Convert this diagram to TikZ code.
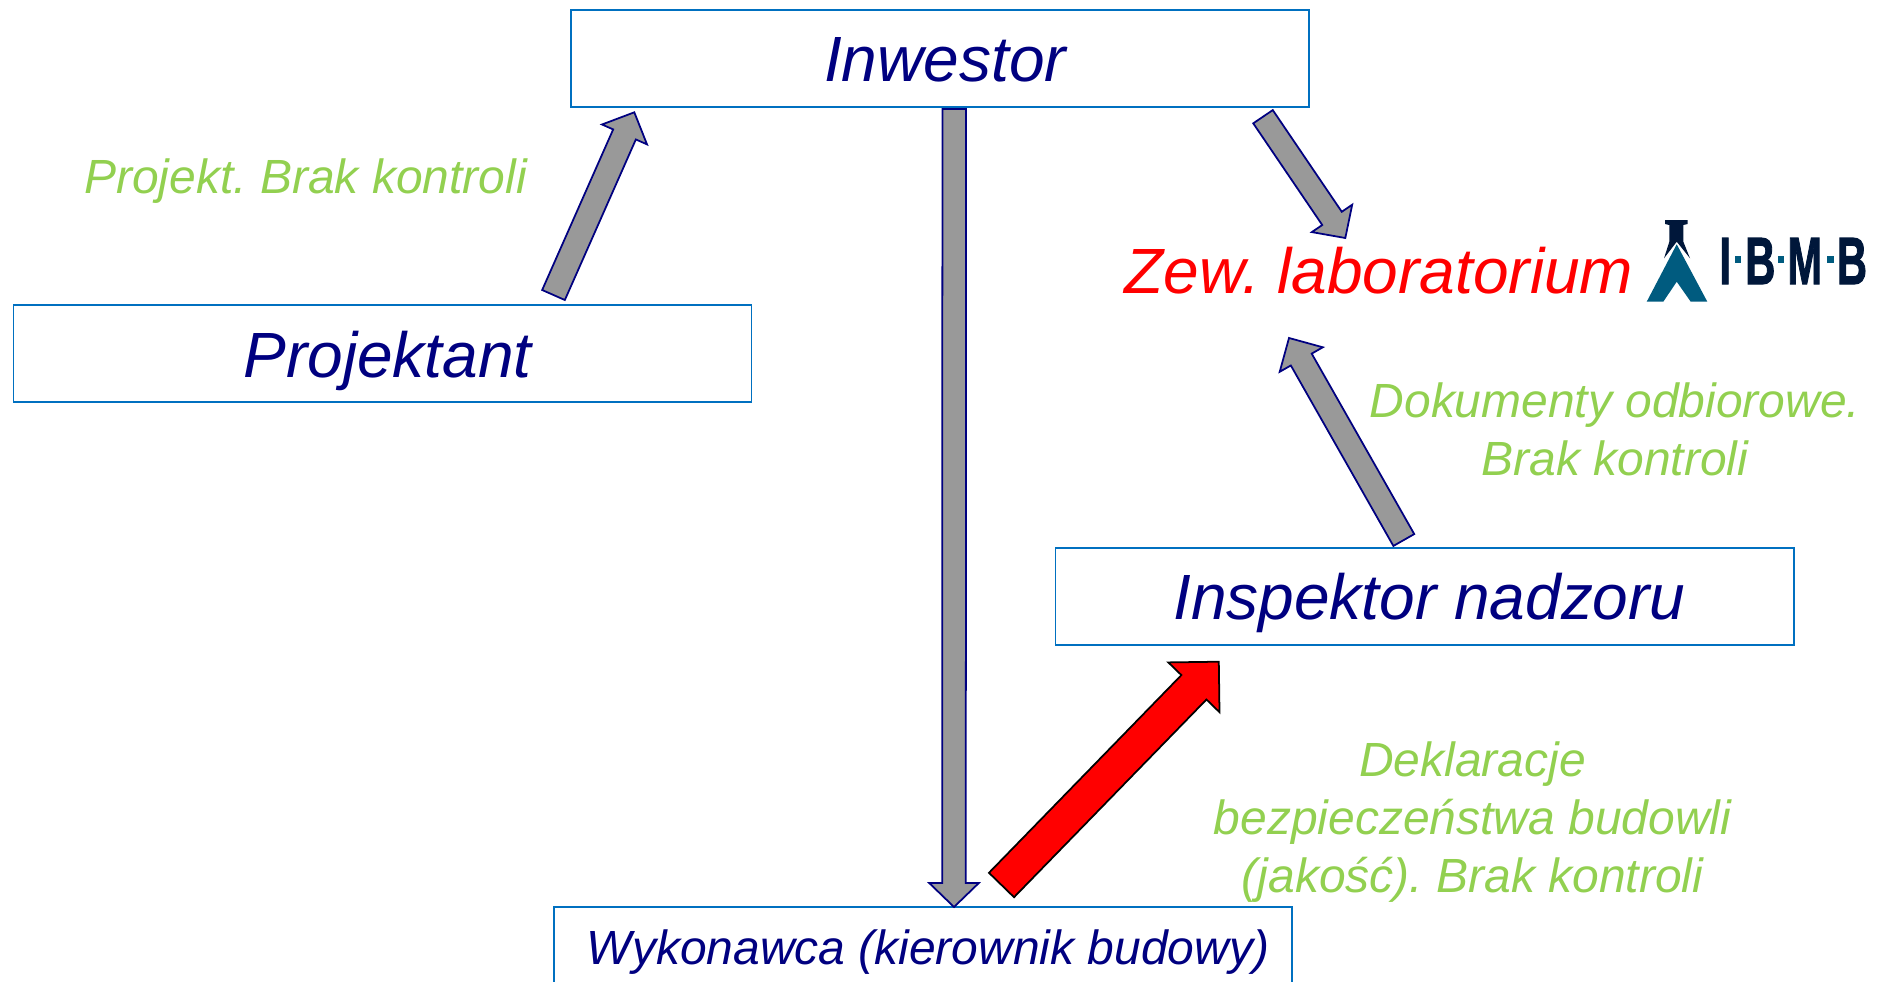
\documentclass[tikz,border=0pt]{standalone}
\usepackage{fontspec}
\setmainfont{Liberation Sans}
\newfontfamily\logofont[FakeBold=2]{Liberation Sans Bold}
\usetikzlibrary{positioning,calc}
\frenchspacing

\definecolor{boxblue}{HTML}{0070C0}
\definecolor{labelgreen}{HTML}{92D050}
\definecolor{logoteal}{HTML}{005B7F}
\definecolor{logodark}{HTML}{00173A}

\tikzset{
	party/.style={draw=boxblue, line width=0.55pt, minimum width=7.38cm, minimum height=0.97cm, inner sep=0pt, outer sep=0pt, text=blue!50!black, font=\fontsize{18.2}{22}\selectfont\itshape, text height=0.47cm, text depth=0.02cm, execute at begin node=\hspace*{0.1cm}},
	remark/.style={inner sep=0pt, outer sep=0pt, align=center, text=labelgreen, font=\fontsize{13.65}{16.5}\selectfont\itshape},
	block/.style={draw=blue!50!black, fill=black!40, line width=0.5pt, line join=miter},
	redblock/.style={draw=black, fill=red, line width=0.5pt, line join=miter},
	logoletter/.style={inner sep=0pt, outer sep=0pt, anchor=base, text=logodark, font=\fontsize{19}{19}\logofont},
}

% from, to, half shaft, half head, head length
\newcommand{\blockedge}[6][block]{
	\draw[#1] ($(#2)!#4!90:(#3)$) -- ($(#3)!#6!(#2)!#4!90:(#3)$) -- ($(#3)!#6!(#2)!#5!90:(#3)$) -- (#3)
		-- ($(#3)!#6!(#2)!#5!-90:(#3)$) -- ($(#3)!#6!(#2)!#4!-90:(#3)$) -- ($(#2)!#4!-90:(#3)$) -- cycle;
}

\begin{document}
\begin{tikzpicture}
	\useasboundingbox (0,0) rectangle (18.83,-9.81);

	%% PARTIES
	\node[party](inwestor) at (9.40,-0.585){Inwestor};
	\node[party, below=1.98cm of inwestor, xshift=-5.575cm, text height=0.50cm](projektant){Projektant};
	\node[party, below=4.41cm of inwestor, xshift=4.845cm](inspektor){Inspektor nadzoru};
	\node[party, below=8.00cm of inwestor, xshift=-0.17cm, font=\fontsize{13.65}{16}\selectfont\itshape, text height=0.19cm](wykonawca){Wykonawca (kierownik budowy)};

	\node[inner sep=0pt, outer sep=0pt, text=red, font=\fontsize{18.2}{22}\selectfont\itshape, below=1.40cm of inwestor, xshift=4.39cm](lab){Zew. laboratorium};

	%% REMARKS
	\node[remark, above=1.02cm of projektant.north, xshift=-0.77cm](remark_projekt){Projekt. Brak kontroli};
	\node[remark, above=0.72cm of inspektor.north, xshift=1.905cm](remark_odbior){Dokumenty odbiorowe.\\Brak kontroli};
	\node[remark, below=0.965cm of inspektor.south, xshift=0.48cm](remark_jakosc){Deklaracje\\bezpieczeństwa budowli\\(jakość). Brak kontroli};

	%% ARROW ENDS
	\coordinate[above=0.10cm of projektant.north west, xshift=5.40cm](projektant_out);
	\coordinate[below=0.053cm of inwestor.south west, xshift=0.633cm](inwestor_in);
	\coordinate[below=0.02cm of inwestor.south, xshift=0.142cm](inwestor_down);
	\coordinate[xshift=0.31cm] (wykonawca_in) at (wykonawca.north);
	\coordinate[below=0.097cm of inwestor.south east, xshift=-0.46cm](inwestor_out);
	\coordinate[above=0.09cm of lab.north, xshift=-0.337cm](lab_top);
	\coordinate[below=0.44cm of lab.south, xshift=-0.90cm](lab_bottom);
	\coordinate[above=0.08cm of inspektor.north, xshift=-0.207cm](inspektor_out);
	\coordinate[above=0.22cm of wykonawca.north, xshift=0.785cm](wykonawca_out);
	\coordinate[below=0.167cm of inspektor.south west, xshift=1.633cm](inspektor_in);

	\blockedge{projektant_out}{inwestor_in}{0.124cm}{0.246cm}{0.242cm};
	\blockedge{inwestor_down}{wykonawca_in}{0.118cm}{0.248cm}{0.24cm};
	\blockedge{inwestor_out}{lab_top}{0.118cm}{0.244cm}{0.237cm};
	\blockedge{inspektor_out}{lab_bottom}{0.12cm}{0.248cm}{0.248cm};
	\blockedge[redblock]{wykonawca_out}{inspektor_in}{0.175cm}{0.357cm}{0.357cm};

	%% LOGO
	\fill[logodark] (16.65,-2.20) -- (16.877,-2.20) -- (16.877,-2.24) -- (16.833,-2.25) -- (16.833,-2.417)
		-- (16.90,-2.583) -- (16.767,-2.417) -- (16.64,-2.583) -- (16.693,-2.417) -- (16.693,-2.25) -- (16.65,-2.24) -- cycle;
	\fill[logoteal] (16.767,-2.443) -- (17.073,-3.017) -- (16.907,-3.017) -- (16.767,-2.817) -- (16.633,-3.017) -- (16.467,-3.017) -- cycle;
	\foreach \name/\letter/\pos in {logo_i/I/17.253, logo_b/B/17.603, logo_m/M/18.047, logo_bb/B/18.52}{
		\node[logoletter, xscale=0.62, transform shape](\name) at (\pos,-2.84){\letter};
	}
	\foreach \pos in {17.345, 17.775, 18.27}{
		\fill[logoteal] (\pos,-2.56) rectangle +(0.065,-0.07);
	}
\end{tikzpicture}
\end{document}
